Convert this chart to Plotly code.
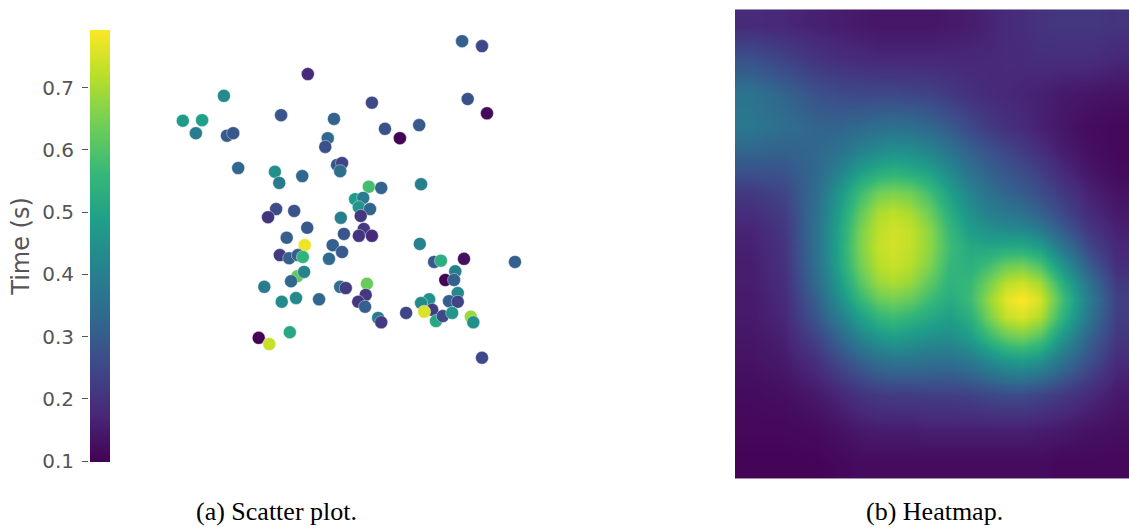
import plotly.graph_objects as go

W, H = 1129, 531

# ---------------- scatter data ----------------
scatter_x = [0.101, 0.132, 0.122, 0.167, 0.172, 0.182, 0.190, 0.259, 0.302, 0.249,
             0.256, 0.293, 0.344, 0.334, 0.330, 0.349, 0.357, 0.354, 0.405, 0.426,
             0.450, 0.481, 0.550, 0.582, 0.559, 0.590, 0.484, 0.400, 0.420, 0.378,
             0.391, 0.384, 0.402, 0.251, 0.238, 0.280, 0.355, 0.387, 0.301, 0.360,
             0.392, 0.384, 0.405, 0.268, 0.297, 0.342, 0.357, 0.336, 0.257, 0.272,
             0.286, 0.294, 0.285, 0.296, 0.275, 0.232, 0.260, 0.283, 0.320, 0.354,
             0.363, 0.397, 0.395, 0.383, 0.394, 0.415, 0.420, 0.460, 0.482, 0.505,
             0.516, 0.553, 0.539, 0.523, 0.537, 0.543, 0.497, 0.484, 0.502, 0.489,
             0.508, 0.519, 0.529, 0.543, 0.534, 0.564, 0.568, 0.635, 0.582, 0.223,
             0.240, 0.273]
scatter_y = [0.647, 0.648, 0.627, 0.687, 0.623, 0.627, 0.571, 0.656, 0.722, 0.565,
             0.547, 0.558, 0.650, 0.619, 0.605, 0.576, 0.579, 0.566, 0.676, 0.634,
             0.619, 0.640, 0.775, 0.767, 0.682, 0.659, 0.545, 0.541, 0.539, 0.521,
             0.523, 0.508, 0.505, 0.505, 0.492, 0.502, 0.491, 0.494, 0.475, 0.465,
             0.473, 0.462, 0.462, 0.459, 0.447, 0.447, 0.436, 0.425, 0.431, 0.426,
             0.431, 0.428, 0.397, 0.404, 0.389, 0.380, 0.356, 0.362, 0.360, 0.380,
             0.378, 0.385, 0.367, 0.356, 0.348, 0.330, 0.323, 0.338, 0.449, 0.420,
             0.422, 0.425, 0.405, 0.391, 0.391, 0.370, 0.360, 0.354, 0.343, 0.340,
             0.325, 0.333, 0.357, 0.356, 0.338, 0.332, 0.323, 0.420, 0.266, 0.298,
             0.288, 0.307]
scatter_time = [0.480, 0.486, 0.390, 0.431, 0.293, 0.286, 0.328, 0.286, 0.183, 0.445,
                0.390, 0.328, 0.321, 0.335, 0.273, 0.286, 0.238, 0.348, 0.252, 0.273,
                0.100, 0.293, 0.307, 0.252, 0.273, 0.114, 0.397, 0.583, 0.321, 0.480,
                0.390, 0.459, 0.321, 0.259, 0.204, 0.279, 0.397, 0.210, 0.293, 0.286,
                0.217, 0.204, 0.183, 0.307, 0.776, 0.307, 0.293, 0.335, 0.217, 0.307,
                0.307, 0.549, 0.618, 0.411, 0.328, 0.390, 0.431, 0.424, 0.328, 0.348,
                0.224, 0.631, 0.210, 0.210, 0.307, 0.390, 0.217, 0.245, 0.411, 0.293,
                0.535, 0.128, 0.397, 0.100, 0.307, 0.424, 0.445, 0.424, 0.224, 0.756,
                0.514, 0.252, 0.307, 0.238, 0.459, 0.687, 0.445, 0.307, 0.252, 0.100,
                0.735, 0.514]

time_ticks = [0.1, 0.2, 0.3, 0.4, 0.5, 0.6, 0.7]
time_range = [0.0984, 0.7929]

# ---------------- heatmap data ----------------
heat_x = [0.041, 0.124, 0.208, 0.266, 0.317, 0.363, 0.401, 0.444, 0.495,
          0.546, 0.596, 0.647, 0.688, 0.728, 0.774, 0.830, 0.901, 0.970]
heat_y = [0.036, 0.106, 0.179, 0.249, 0.300, 0.347, 0.391, 0.432, 0.470, 0.506,
          0.545, 0.583, 0.619, 0.657, 0.698, 0.749, 0.821, 0.894, 0.964]
heat_z = [
    [0.12, 0.11, 0.09, 0.08, 0.07, 0.06, 0.06, 0.06, 0.06, 0.07, 0.08, 0.10, 0.12, 0.13, 0.15, 0.16, 0.16, 0.15],
    [0.25, 0.20, 0.15, 0.13, 0.12, 0.11, 0.11, 0.11, 0.11, 0.11, 0.11, 0.11, 0.12, 0.12, 0.13, 0.13, 0.13, 0.11],
    [0.38, 0.32, 0.25, 0.23, 0.22, 0.22, 0.22, 0.21, 0.20, 0.17, 0.14, 0.12, 0.11, 0.10, 0.09, 0.07, 0.06, 0.05],
    [0.40, 0.36, 0.32, 0.32, 0.34, 0.36, 0.37, 0.36, 0.33, 0.28, 0.22, 0.17, 0.14, 0.12, 0.09, 0.06, 0.03, 0.02],
    [0.33, 0.31, 0.33, 0.38, 0.44, 0.48, 0.50, 0.49, 0.45, 0.38, 0.31, 0.25, 0.21, 0.18, 0.13, 0.08, 0.04, 0.02],
    [0.25, 0.26, 0.34, 0.45, 0.56, 0.62, 0.64, 0.62, 0.57, 0.48, 0.38, 0.31, 0.27, 0.24, 0.19, 0.12, 0.06, 0.03],
    [0.17, 0.21, 0.36, 0.53, 0.68, 0.78, 0.80, 0.78, 0.69, 0.56, 0.45, 0.37, 0.32, 0.29, 0.24, 0.17, 0.09, 0.05],
    [0.13, 0.18, 0.37, 0.57, 0.75, 0.87, 0.90, 0.87, 0.77, 0.62, 0.50, 0.43, 0.40, 0.37, 0.31, 0.22, 0.12, 0.07],
    [0.10, 0.16, 0.38, 0.59, 0.79, 0.90, 0.93, 0.91, 0.82, 0.66, 0.55, 0.50, 0.48, 0.47, 0.41, 0.29, 0.16, 0.09],
    [0.09, 0.15, 0.38, 0.60, 0.80, 0.91, 0.93, 0.91, 0.83, 0.68, 0.60, 0.59, 0.60, 0.60, 0.55, 0.39, 0.21, 0.11],
    [0.08, 0.14, 0.37, 0.59, 0.78, 0.89, 0.92, 0.89, 0.80, 0.66, 0.63, 0.70, 0.77, 0.79, 0.72, 0.52, 0.29, 0.13],
    [0.08, 0.13, 0.35, 0.55, 0.73, 0.84, 0.87, 0.84, 0.74, 0.64, 0.67, 0.80, 0.90, 0.93, 0.87, 0.64, 0.37, 0.17],
    [0.07, 0.12, 0.31, 0.50, 0.66, 0.76, 0.79, 0.76, 0.68, 0.61, 0.68, 0.85, 0.96, 1.00, 0.94, 0.70, 0.41, 0.19],
    [0.07, 0.11, 0.27, 0.43, 0.56, 0.65, 0.68, 0.65, 0.60, 0.56, 0.63, 0.80, 0.91, 0.94, 0.88, 0.65, 0.38, 0.18],
    [0.06, 0.09, 0.21, 0.33, 0.45, 0.52, 0.55, 0.53, 0.50, 0.49, 0.55, 0.67, 0.75, 0.78, 0.72, 0.53, 0.31, 0.16],
    [0.05, 0.07, 0.14, 0.23, 0.30, 0.36, 0.38, 0.38, 0.37, 0.37, 0.40, 0.47, 0.52, 0.54, 0.50, 0.38, 0.24, 0.12],
    [0.03, 0.04, 0.07, 0.11, 0.15, 0.17, 0.18, 0.18, 0.19, 0.19, 0.20, 0.22, 0.23, 0.23, 0.21, 0.17, 0.12, 0.07],
    [0.02, 0.02, 0.03, 0.05, 0.07, 0.08, 0.08, 0.08, 0.09, 0.09, 0.09, 0.09, 0.09, 0.09, 0.08, 0.07, 0.05, 0.04],
    [0.01, 0.01, 0.01, 0.02, 0.03, 0.03, 0.03, 0.03, 0.03, 0.03, 0.03, 0.03, 0.03, 0.03, 0.03, 0.02, 0.02, 0.02],
]

captions = ["(a) Scatter plot.", "(b) Heatmap."]

# ---------------- figure ----------------
fig = go.Figure()

fig.add_trace(go.Scatter(
    x=scatter_x, y=scatter_y, mode="markers",
    marker=dict(
        size=13, color=scatter_time, colorscale="Viridis",
        cmin=time_range[0], cmax=time_range[1],
        line=dict(color="white", width=0.4),
        showscale=True,
        colorbar=dict(
            x=90 / W, xanchor="left", xref="paper",
            y=(H - 30) / H, yanchor="top", yref="paper",
            thickness=20, thicknessmode="pixels",
            len=432, lenmode="pixels",
            xpad=0, ypad=0, outlinewidth=0,
            showticklabels=False, ticks="",
        ),
    ),
    xaxis="x", yaxis="y", showlegend=False, hoverinfo="skip",
))

fig.add_trace(go.Heatmap(
    z=heat_z, x=heat_x, y=heat_y,
    colorscale="Viridis", zmin=0, zmax=1, zsmooth="best",
    showscale=False, xaxis="x2", yaxis="y2", hoverinfo="skip",
))

axis_font = dict(family="DejaVu Sans", size=20, color="#555555")

fig.update_layout(
    width=W, height=H,
    margin=dict(l=0, r=0, t=0, b=0),
    paper_bgcolor="white", plot_bgcolor="white",
    template="none",
    xaxis=dict(domain=[120 / W, 530 / W], range=[0, 410 / 622], visible=False),
    yaxis=dict(
        domain=[(H - 462) / H, (H - 30) / H], range=time_range,
        anchor="free", position=88 / W, side="left",
        tickvals=time_ticks, ticktext=[f"{t:.1f}" for t in time_ticks],
        ticks="outside", ticklen=6, tickwidth=1.2, tickcolor="#555555",
        ticklabelstandoff=4,
        tickfont=axis_font, showline=False, showgrid=False, zeroline=False,
        title=dict(text="Time (s)", font=dict(family="DejaVu Sans", size=24, color="#555555"),
                   standoff=4),
    ),
    xaxis2=dict(domain=[735 / W, 1.0], range=[0, 1], visible=False),
    yaxis2=dict(domain=[(H - 479) / H, (H - 9) / H], range=[1, 0],
                visible=False, anchor="x2"),
)

cap_x = [276 / W, 934 / W]
for txt, cx in zip(captions, cap_x):
    fig.add_annotation(
        text=txt, x=cx, y=(H - 511) / H, xref="paper", yref="paper",
        xanchor="center", yanchor="middle", showarrow=False,
        font=dict(family="Liberation Serif", size=26, color="black"),
    )

fig.write_html("out.html")
